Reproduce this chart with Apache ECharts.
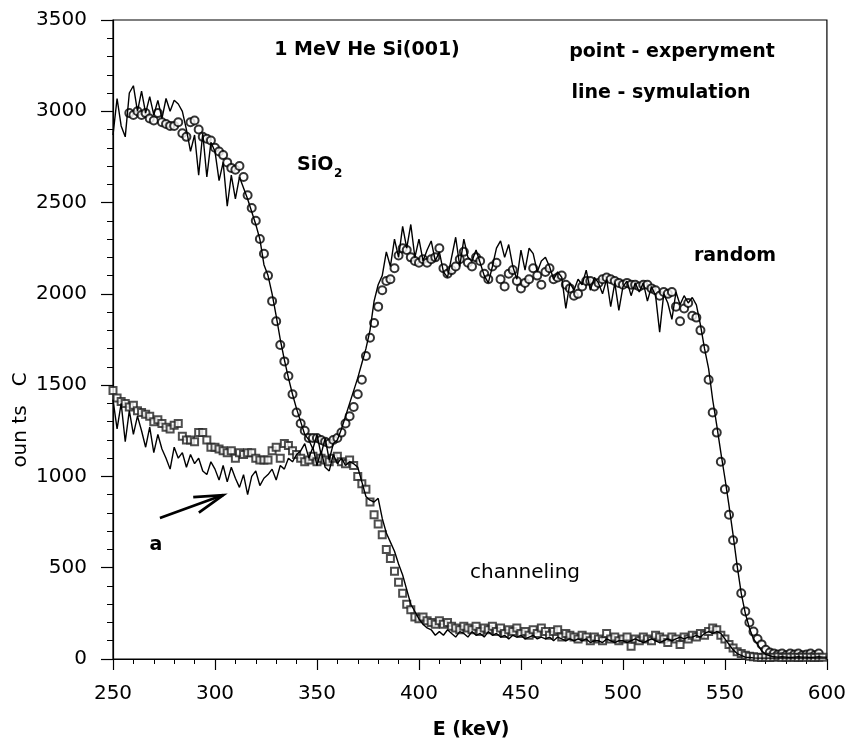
<!DOCTYPE html>
<html><head><meta charset="utf-8">
<script src="https://cdn.jsdelivr.net/npm/echarts@6/dist/echarts.min.js"></script>
<style>html,body{margin:0;padding:0;background:#fff}#c{width:849px;height:742px}</style>
</head><body><div id="c"></div>
<script>
// Energy channels (keV)
const energy = [
250,252,254,256,258,260,262,264,266,268,
270,272,274,276,278,280,282,284,286,288,
290,292,294,296,298,300,302,304,306,308,
310,312,314,316,318,320,322,324,326,328,
330,332,334,336,338,340,342,344,346,348,
350,352,354,356,358,360,362,364,366,368,
370,372,374,376,378,380,382,384,386,388,
390,392,394,396,398,400,402,404,406,408,
410,412,414,416,418,420,422,424,426,428,
430,432,434,436,438,440,442,444,446,448,
450,452,454,456,458,460,462,464,466,468,
470,472,474,476,478,480,482,484,486,488,
490,492,494,496,498,500,502,504,506,508,
510,512,514,516,518,520,522,524,526,528,
530,532,534,536,538,540,542,544,546,548,
550,552,554,556,558,560,562,564,566,568,
570,572,574,576,578,580,582,584,586,588,
590,592,594,596,598,600];

// random - simulation (line)
const randomSim = [
2870,3070,2920,2860,3100,3140,3000,3110,2990,3080,
2980,3060,2960,3070,3000,3060,3040,3000,2900,2780,
2870,2650,2880,2640,2830,2780,2620,2720,2480,2650,
2520,2640,2580,2520,2450,2380,2300,2160,2100,2000,
1880,1750,1640,1540,1450,1370,1300,1230,1200,1150,
1230,1120,1210,1090,1180,1200,1260,1330,1400,1470,
1540,1620,1700,1800,1960,2050,2100,2230,2150,2300,
2200,2370,2250,2380,2200,2300,2180,2240,2290,2180,
2230,2120,2090,2200,2310,2150,2300,2200,2180,2240,
2170,2100,2060,2150,2250,2290,2200,2270,2150,2080,
2240,2130,2250,2220,2120,2180,2200,2150,2080,2120,
2090,1920,2060,2020,2080,2050,2130,2020,2090,2060,
2000,2080,1930,2060,1910,2040,2070,1990,2060,2010,
2060,1960,2040,1990,1790,2000,1950,1860,2010,1940,
1990,1950,1980,1940,1830,1700,1590,1420,1280,1130,
990,840,680,510,360,250,170,110,80,45,
25,18,12,10,12,10,8,10,12,10,
10,8,10,12,10,10];

// random - experiment (circles)
const randomExp = [
null,null,null,null,2990,2980,3000,2980,2990,2960,
2950,2990,2940,2930,2920,2920,2940,2880,2860,2940,
2950,2900,2860,2850,2840,2800,2780,2760,2720,2690,
2680,2700,2640,2540,2470,2400,2300,2220,2100,1960,
1850,1720,1630,1550,1450,1350,1290,1250,1210,1210,
1210,1200,1190,1180,1200,1210,1240,1290,1330,1380,
1450,1530,1660,1760,1840,1930,2020,2070,2080,2140,
2210,2250,2240,2200,2180,2170,2190,2170,2190,2200,
2250,2140,2110,2130,2150,2190,2230,2170,2150,2200,
2180,2110,2080,2150,2170,2080,2040,2110,2130,2070,
2030,2060,2080,2140,2100,2050,2120,2140,2080,2090,
2100,2050,2030,1990,2000,2040,2070,2070,2040,2060,
2080,2090,2080,2070,2060,2050,2060,2050,2050,2040,
2050,2050,2030,2020,1990,2010,2000,2010,1930,1850,
1920,1950,1880,1870,1800,1700,1530,1350,1240,1080,
930,790,650,500,360,260,200,150,110,80,
50,35,30,25,30,20,30,25,30,20,
25,30,20,30,null,null];

// channeling - experiment (squares)
const channelExp = [
1470,1430,1410,1400,1380,1390,1360,1350,1340,1330,
1300,1310,1290,1270,1260,1280,1290,1220,1200,1200,
1190,1240,1240,1200,1160,1160,1150,1140,1130,1140,
1100,1130,1120,1130,1130,1100,1090,1090,1090,1140,
1160,1100,1180,1170,1140,1120,1100,1080,1090,1110,
1080,1100,1090,1080,1100,1110,1080,1070,1090,1060,
1000,960,930,860,790,740,680,600,550,480,
420,360,300,270,230,220,230,210,200,190,
210,190,200,180,170,160,180,170,160,180,
150,170,160,180,150,170,140,160,150,170,
140,150,130,160,140,170,150,130,150,160,
120,140,130,120,110,130,120,100,120,110,
100,140,110,120,100,110,120,70,110,100,
120,110,100,130,120,110,90,120,110,80,
120,110,130,120,140,130,150,170,160,130,
110,80,60,40,30,20,15,12,10,8,
10,8,10,12,8,10,9,10,8,10,
9,10,8,10,10,null];

// channeling - simulation (line)
const channelSim = [
1420,1260,1400,1190,1360,1230,1330,1250,1160,1270,
1130,1230,1150,1100,1040,1160,1100,1130,1050,1120,
1070,1100,1030,1010,1080,1040,980,1060,970,1050,
990,940,1010,900,1000,1030,950,990,1010,1040,
980,1060,1040,1100,1080,1120,1140,1180,1100,1160,
1060,1140,1050,1030,1120,1070,1100,1060,1080,1070,
1050,970,890,870,860,880,770,690,640,590,
520,460,380,300,260,220,190,170,160,130,
150,130,160,140,120,150,140,120,150,130,
140,120,150,130,140,120,130,110,130,120,
130,110,120,130,110,120,110,120,100,120,
110,100,110,100,110,100,110,90,100,100,
90,110,100,90,100,100,90,100,110,100,
90,100,110,100,90,100,110,100,110,120,
110,120,120,130,120,140,150,140,150,140,
110,80,50,30,20,10,8,6,5,5,
5,5,5,5,5,5,5,5,5,5,
5,5,5,5,5,5];

const xTicks = [250,300,350,400,450,500,550,600];
const yTicks = [0,500,1000,1500,2000,2500,3000,3500];
const arrowFrom = [273, 772];
const arrowTo = [304, 898];

const FONT = "'DejaVu Sans', sans-serif";
function pairs(vals){ const out=[]; for(let i=0;i<energy.length;i++){ if(vals[i]!==null) out.push([energy[i], vals[i]]); } return out; }
function linePairs(vals){ return energy.map((e,i)=>[e, vals[i]===null?'-':vals[i]]); }

const chart = echarts.init(document.getElementById('c'), null, {renderer:'canvas'});
const axisCommon = {
  axisLine:{show:true, onZero:false, lineStyle:{color:'#000', width:1.2}},
  splitLine:{show:false}
};
chart.setOption({
  animation:false,
  backgroundColor:'#fff',
  grid:{left:113, right:22, top:20, bottom:83, show:true, borderColor:'#000', borderWidth:1.2},
  xAxis:Object.assign({}, axisCommon, {
    type:'value', min:xTicks[0], max:xTicks[xTicks.length-1], interval:xTicks[1]-xTicks[0],
    axisTick:{show:true, length:11, lineStyle:{color:'#000', width:1.2}},
    minorTick:{show:true, splitNumber:5, length:5, lineStyle:{color:'#000', width:1}},
    axisLabel:{color:'#000', fontSize:20, fontFamily:FONT, margin:25, formatter:v=>String(v)}
  }),
  yAxis:Object.assign({}, axisCommon, {
    type:'value', min:yTicks[0], max:yTicks[yTicks.length-1], interval:yTicks[1]-yTicks[0],
    axisTick:{show:true, length:12, lineStyle:{color:'#000', width:1.2}},
    minorTick:{show:true, splitNumber:5, length:6, lineStyle:{color:'#000', width:1}},
    axisLabel:{color:'#000', fontSize:20, fontFamily:FONT, margin:26, formatter:v=>String(v)}
  }),
  series:[
    {name:'random exp', type:'scatter', data:pairs(randomExp), symbol:'emptyCircle', symbolSize:8,
     itemStyle:{color:'#000', borderColor:'#000', borderWidth:1}, z:2},
    {name:'channeling exp', type:'scatter', data:pairs(channelExp), symbol:'emptyRect', symbolSize:7,
     itemStyle:{color:'#222', borderColor:'#222', borderWidth:1}, z:2},
    {name:'random sim', type:'line', data:linePairs(randomSim), showSymbol:false, symbol:'none',
     lineStyle:{color:'#000', width:1.4}, z:3},
    {name:'channeling sim', type:'line', data:linePairs(channelSim), showSymbol:false, symbol:'none',
     lineStyle:{color:'#000', width:1.4}, z:3}
  ]
});

// Arrow annotation placed through the chart's own scales
const p0 = chart.convertToPixel({gridIndex:0}, arrowFrom);
const p1 = chart.convertToPixel({gridIndex:0}, arrowTo);
const ang = Math.atan2(p0[1]-p1[1], p0[0]-p1[0]);
const armLen = 30, spread = 16*Math.PI/180;
const a1 = [p1[0]+armLen*Math.cos(ang-spread), p1[1]+armLen*Math.sin(ang-spread)];
const a2 = [p1[0]+armLen*Math.cos(ang+spread), p1[1]+armLen*Math.sin(ang+spread)];

const bold = {fill:'#000', font:"bold 19px "+FONT, align:'center', verticalAlign:'middle'};
function txt(text, x, y, st, extra){ return Object.assign({type:'text', x:x, y:y, style:Object.assign({text:text}, st)}, extra||{}); }
chart.setOption({
  graphic:[
    txt('1 MeV He Si(001)', 367, 50, bold),
    txt('point - experyment', 672, 52, bold),
    txt('line - symulation', 661, 93, bold),
    txt('random', 735, 256, bold),
    txt('SiO', 297, 165, Object.assign({}, bold, {align:'left'})),
    txt('2', 334, 174, {fill:'#000', font:"bold 12px "+FONT, align:'left', verticalAlign:'middle'}),
    txt('channeling', 525, 573, {fill:'#000', font:"20px "+FONT, align:'center', verticalAlign:'middle'}),
    txt('a', 156, 545, bold),
    txt('E (keV)', 471, 730, bold),
    txt('oun ts   C', 21, 420, {fill:'#000', font:"20px "+FONT, align:'center', verticalAlign:'middle'}, {rotation:Math.PI/2}),
    {type:'line', shape:{x1:p0[0], y1:p0[1], x2:p1[0], y2:p1[1]}, style:{stroke:'#000', lineWidth:2.7}},
    {type:'polyline', shape:{points:[a1, p1, a2]}, style:{stroke:'#000', lineWidth:2.7, fill:null, lineJoin:'miter'}}
  ]
});
</script></body></html>
